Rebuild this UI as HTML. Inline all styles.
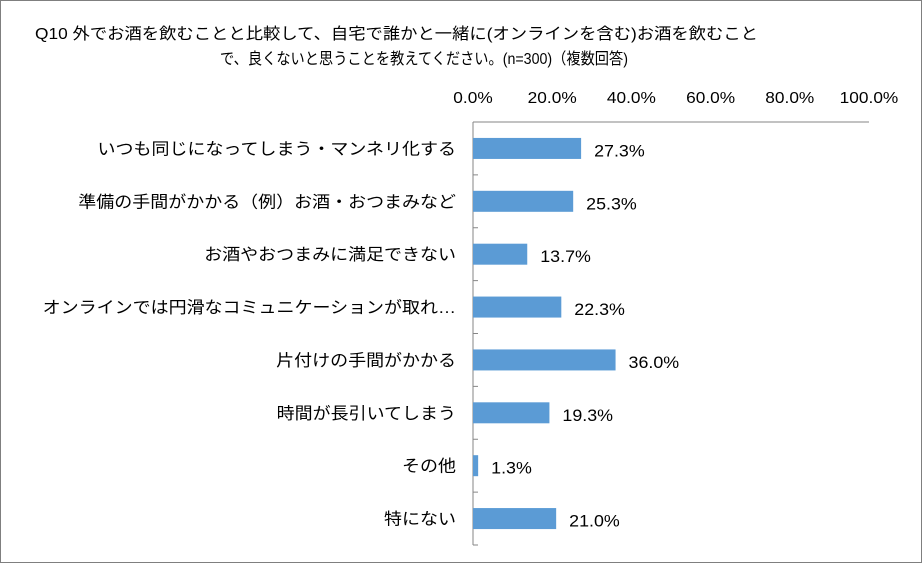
<!DOCTYPE html>
<html><head><meta charset="utf-8"><style>
html,body{margin:0;padding:0;background:#fff;}
body{width:922px;height:563px;overflow:hidden;font-family:"Liberation Sans","Noto Sans CJK JP",sans-serif;}
</style></head><body>
<svg width="922" height="563" xmlns="http://www.w3.org/2000/svg">
<rect x="0.5" y="0.5" width="921" height="562" fill="#fff" stroke="#7f7f7f"/>
<g font-family="Liberation Sans, Noto Sans CJK JP, sans-serif" font-size="16" fill="#000">
<text id="t1" x="35" y="39" textLength="723" lengthAdjust="spacingAndGlyphs">Q10 外でお酒を飲むことと比較して、自宅で誰かと一緒に(オンラインを含む)お酒を飲むこと</text>
<text id="t2" x="220" y="64" textLength="408" lengthAdjust="spacingAndGlyphs">で、良くないと思うことを教えてください。(n=300)（複数回答)</text>
</g>
<g id="plot"></g>
</svg>
<script>
const categories=["いつも同じになってしまう・マンネリ化する","準備の手間がかかる（例）お酒・おつまみなど","お酒やおつまみに満足できない","オンラインでは円滑なコミュニケーションが取れ…","片付けの手間がかかる","時間が長引いてしまう","その他","特にない"];
const values=[27.3,25.3,13.7,22.3,36.0,19.3,1.3,21.0];
const tickValues=[0,20,40,60,80,100];
const tickLabels=["0.0%","20.0%","40.0%","60.0%","80.0%","100.0%"];
const x0=473,x1=869,yTop=122,yBot=545;
const xs=v=>x0+(v/100)*(x1-x0);
const band=(yBot-yTop)/categories.length;
const yc=i=>yTop+band*(i+0.5);
const NS="http://www.w3.org/2000/svg";
const g=document.getElementById('plot');
function mk(t,a){const e=document.createElementNS(NS,t);for(const k in a)e.setAttribute(k,a[k]);g.appendChild(e);return e;}
function stretch(el,f){const w=el.getComputedTextLength();el.setAttribute('textLength',w*f);el.setAttribute('lengthAdjust','spacingAndGlyphs');}
let e;
e=mk('line',{x1:x0,y1:yTop,x2:x1,y2:yTop,stroke:'#868686'});


e=mk('line',{x1:x0,y1:yTop,x2:x0,y2:yBot,stroke:'#868686'});


tickValues.forEach((v,i)=>{
 e=mk('text',{x:xs(v),y:103,'text-anchor':'middle','font-size':16});
 e.textContent=tickLabels[i];
 
 
 stretch(e,1.08);
});
for(let i=0;i<=categories.length;i++){
 e=mk('line',{x1:x0,y1:yTop+band*i,x2:x0+5,y2:yTop+band*i,stroke:'#868686'});
 
 
}
categories.forEach((c,i)=>{
 e=mk('text',{x:456,y:yc(i)+6,'text-anchor':'end','font-size':16.5});
 e.textContent=c;
 
 
 stretch(e,1.09);
 e=mk('rect',{x:x0,y:yc(i)-10.5,width:xs(values[i])-x0,height:21,fill:'#5b9bd5'});
 
 
 e=mk('text',{x:xs(values[i])+13,y:yc(i)+8,'font-size':17});
 e.textContent=values[i].toFixed(1)+'%';
 
 
 stretch(e,1.05);
});
</script>
</body></html>
